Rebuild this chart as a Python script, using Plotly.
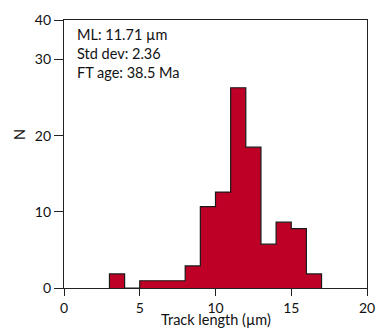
import plotly.graph_objects as go

# Histogram data (bin edges in µm, heights)
bin_edges = [3, 4, 5, 6, 7, 8, 9, 10, 11, 12, 13, 14, 15, 16, 17]
counts = [1.85, 0, 0.95, 0.95, 0.95, 2.9, 10.7, 12.6, 26.3, 18.5, 5.75, 8.65, 7.8, 1.85]

x_ticks = [0, 5, 10, 15, 20]
y_tickvals = [0, 10, 20, 30, 35.2]
y_ticktext = ["0", "10", "20", "30", "40"]

stats_lines = ["ML: 11.71 µm", "Std dev: 2.36", "FT age: 38.5 Ma"]
x_title = "Track length (µm)"
y_title = "N"

# build step outline from edges and counts
xs = [bin_edges[0]] + list(bin_edges)
ys = [0] + list(counts) + [0]

FONT = "Lato"
LINE = "#222222"
TXT = "#111111"

fig = go.Figure()
fig.add_trace(go.Scatter(
    x=xs, y=ys, mode="lines", line=dict(shape="hv", color="#1a1a1a", width=1.2),
    fill="tozeroy", fillcolor="#BE0026", hoverinfo="skip", showlegend=False,
))

fig.add_annotation(
    x=0.035, y=0.985, xref="paper", yref="paper", xanchor="left", yanchor="top",
    text="<br>".join(stats_lines), showarrow=False, align="left",
    font=dict(family=FONT, size=14.5, color=TXT),
)
fig.add_annotation(
    x=0.5, y=-0.153, xref="paper", yref="paper", xanchor="center", yanchor="bottom",
    text=x_title, showarrow=False, borderpad=0,
    font=dict(family=FONT, size=14.5, color=TXT),
)
fig.add_annotation(
    x=-0.145, y=0.571, xref="paper", yref="paper", xanchor="center", yanchor="middle",
    text=y_title, showarrow=False, textangle=-90, font=dict(family=FONT, size=14.5, color=TXT),
)

fig.update_xaxes(
    range=[0, 20], tickvals=x_ticks, ticks="outside", ticklen=7, tickwidth=1.2,
    tickcolor=LINE, showline=True, linecolor=LINE, linewidth=1.2, mirror=True,
    showgrid=False, zeroline=False, automargin=False,
    tickfont=dict(family=FONT, size=14, color=TXT),
)
fig.update_yaxes(
    range=[0, 35.2], tickvals=y_tickvals, ticktext=y_ticktext, ticks="outside",
    ticklen=9, tickwidth=1.2, tickcolor=LINE, showline=True, linecolor=LINE,
    linewidth=1.2, mirror=True, showgrid=False, zeroline=False, automargin=False,
    tickfont=dict(family=FONT, size=14, color=TXT),
)

fig.update_layout(
    width=376, height=329,
    margin=dict(l=64, r=9, t=20, b=41),
    paper_bgcolor="white", plot_bgcolor="white",
    showlegend=False,
)

fig.write_html("out.html", config={"displayModeBar": False},
               post_script="document.body.style.margin='0';")
